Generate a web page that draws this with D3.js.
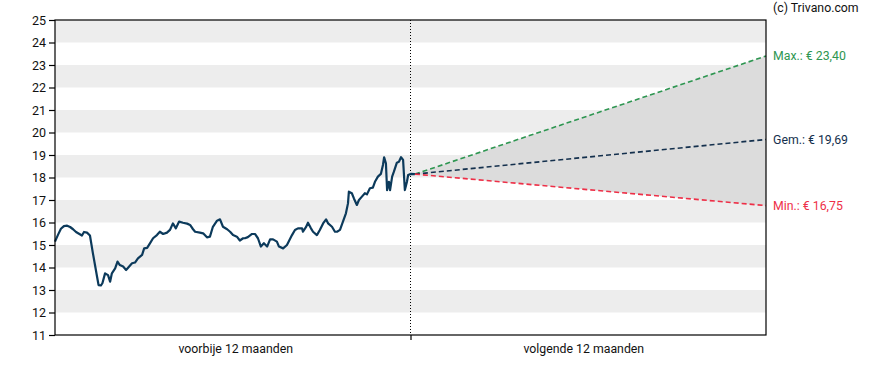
<!DOCTYPE html>
<html>
<head>
<meta charset="utf-8">
<script src="https://cdn.jsdelivr.net/npm/d3@7"></script>
<style>
  body { margin: 0; background: #fff; }
  svg { font-family: Roboto, "Noto Sans", sans-serif; }
</style>
</head>
<body>
<svg width="888" height="370"></svg>
<script>
// months relative to today (negative = past)
var histMonths = [-12.00,-11.90,-11.80,-11.70,-11.59,-11.49,-11.39,-11.29,-11.19,-11.09,-11.02,-10.92,-10.82,-10.72,-10.65,-10.58,-10.53,-10.45,-10.40,-10.31,-10.21,-10.14,-10.08,-9.97,-9.89,-9.81,-9.70,-9.60,-9.54,-9.40,-9.30,-9.20,-9.06,-8.99,-8.89,-8.79,-8.69,-8.56,-8.46,-8.35,-8.22,-8.12,-8.02,-7.92,-7.81,-7.68,-7.54,-7.44,-7.34,-7.27,-7.11,-7.00,-6.87,-6.77,-6.67,-6.53,-6.43,-6.33,-6.19,-6.09,-5.99,-5.86,-5.76,-5.65,-5.59,-5.49,-5.35,-5.25,-5.15,-5.05,-4.95,-4.84,-4.74,-4.64,-4.51,-4.44,-4.30,-4.17,-4.00,-3.90,-3.80,-3.66,-3.63,-3.53,-3.46,-3.36,-3.29,-3.16,-3.06,-2.95,-2.85,-2.78,-2.65,-2.55,-2.48,-2.38,-2.28,-2.18,-2.11,-2.08,-1.98,-1.91,-1.81,-1.74,-1.64,-1.54,-1.47,-1.37,-1.27,-1.20,-1.10,-1.00,-0.93,-0.89,-0.83,-0.79,-0.73,-0.69,-0.62,-0.56,-0.46,-0.39,-0.32,-0.25,-0.22,-0.19,-0.12,-0.08,0.02,0.15];
var histPrice = [15.15,15.45,15.72,15.84,15.86,15.80,15.70,15.58,15.50,15.42,15.58,15.55,15.42,14.63,14.11,13.59,13.22,13.20,13.30,13.74,13.66,13.37,13.74,13.96,14.26,14.11,14.04,13.89,13.98,14.19,14.22,14.41,14.56,14.85,14.87,15.08,15.30,15.44,15.59,15.49,15.55,15.67,15.96,15.74,16.04,15.99,15.95,15.89,15.70,15.59,15.55,15.52,15.34,15.37,15.81,16.08,16.14,15.81,15.70,15.59,15.44,15.37,15.20,15.30,15.30,15.35,15.49,15.49,15.30,14.93,15.08,14.93,15.25,15.25,15.15,14.93,14.85,15.00,15.44,15.67,15.74,15.74,15.59,15.79,15.99,15.74,15.59,15.44,15.67,15.96,16.14,15.96,15.81,15.59,15.59,15.67,16.04,16.41,16.85,17.37,17.30,17.07,16.78,17.00,17.15,17.30,17.25,17.52,17.55,17.81,18.04,18.16,18.56,18.90,18.63,17.44,17.81,17.44,18.04,18.26,18.66,18.70,18.90,18.78,18.11,17.44,17.81,18.11,18.16,18.15];

var forecastMonths = [0.15, 12];
var forecastMax = [18.15, 23.40];
var forecastAvg = [18.15, 19.69];
var forecastMin = [18.15, 16.75];

var yTicks = [11,12,13,14,15,16,17,18,19,20,21,22,23,24,25];
var periodLabels = ["voorbije 12 maanden", "volgende 12 maanden"];
var periodCenters = [-5.9, 5.85];
var endLabels = [
  {text: "Max.: € 23,40", value: 23.40, color: "#2e9651"},
  {text: "Gem.: € 19,69", value: 19.69, color: "#14304d"},
  {text: "Min.: € 16,75", value: 16.75, color: "#ee2f47"}
];

var svg = d3.select("svg");
var plotL = 55, plotR = 766, plotT = 20, plotB = 335;

var x = d3.scaleLinear().domain([-12, 12]).range([plotL, plotR]);
var y = d3.scaleLinear().domain([11, 25]).range([plotB, plotT]);

// alternating bands
svg.selectAll("rect.band")
  .data(yTicks.filter(function(d) { return d < 25 && d % 2 === 0; }))
  .enter().append("rect")
  .attr("class", "band")
  .attr("x", plotL)
  .attr("width", plotR - plotL)
  .attr("y", function(d) { return y(d + 1); })
  .attr("height", function(d) { return y(d) - y(d + 1); })
  .attr("fill", "#ededed");

// forecast cone
var fc = forecastMonths.map(function(m, i) {
  return {m: m, hi: forecastMax[i], lo: forecastMin[i], avg: forecastAvg[i]};
});
svg.append("path")
  .datum(fc)
  .attr("d", d3.area()
    .x(function(d) { return x(d.m); })
    .y0(function(d) { return y(d.lo); })
    .y1(function(d) { return y(d.hi); }))
  .attr("fill", "#dcdcdc");

// divider
svg.append("line")
  .attr("x1", x(0)).attr("x2", x(0))
  .attr("y1", plotT).attr("y2", plotB)
  .attr("stroke", "#000")
  .attr("stroke-width", 1)
  .attr("stroke-dasharray", "1,2");

// price line
var hist = histMonths.map(function(m, i) { return {m: m, v: histPrice[i]}; });
svg.append("path")
  .datum(hist)
  .attr("d", d3.line()
    .x(function(d) { return x(d.m); })
    .y(function(d) { return y(d.v); }))
  .attr("fill", "none")
  .attr("stroke", "#0c3a5b")
  .attr("stroke-width", 2.2)
  .attr("stroke-linejoin", "round");

// forecast lines
[["hi", "#2e9651"], ["avg", "#14304d"], ["lo", "#ee2f47"]].forEach(function(s) {
  svg.append("path")
    .datum(fc)
    .attr("d", d3.line()
      .x(function(d) { return x(d.m); })
      .y(function(d) { return y(d[s[0]]); }))
    .attr("fill", "none")
    .attr("stroke", s[1])
    .attr("stroke-width", 1.6)
    .attr("stroke-dasharray", "5,3");
});

// frame
svg.append("rect")
  .attr("x", plotL).attr("y", plotT)
  .attr("width", plotR - plotL).attr("height", plotB - plotT)
  .attr("fill", "none")
  .attr("stroke", "#000")
  .attr("stroke-width", 1.2);

// y axis
var yAxis = svg.append("g")
  .attr("transform", "translate(" + plotL + ",0)")
  .call(d3.axisLeft(y).tickValues(yTicks).tickSize(6).tickPadding(3).tickFormat(d3.format("d")));
yAxis.select(".domain").remove();
yAxis.selectAll("text").attr("font-size", 12.5).attr("fill", "#111").attr("font-family", "Roboto");
yAxis.selectAll("line").attr("stroke", "#000").attr("stroke-width", 1.2);

// x axis: single tick at today
var xAxis = svg.append("g")
  .attr("transform", "translate(0," + plotB + ")")
  .call(d3.axisBottom(x).tickValues([0]).tickSize(5).tickFormat(""));
xAxis.select(".domain").remove();
xAxis.selectAll("line").attr("stroke", "#000").attr("stroke-width", 1.2);

svg.selectAll("text.period")
  .data(periodLabels)
  .enter().append("text")
  .attr("class", "period")
  .attr("x", function(d, i) { return x(periodCenters[i]); })
  .attr("y", 353)
  .attr("text-anchor", "middle")
  .attr("font-size", 12.3)
  .attr("fill", "#111")
  .text(function(d) { return d; });

// end labels
svg.selectAll("text.end")
  .data(endLabels)
  .enter().append("text")
  .attr("class", "end")
  .attr("x", plotR + 7)
  .attr("y", function(d) { return y(d.value); })
  .attr("dy", "0.35em")
  .attr("font-size", 12.3)
  .attr("fill", function(d) { return d.color; })
  .text(function(d) { return d.text; });

svg.append("text")
  .attr("x", 773)
  .attr("y", 12)
  .attr("font-size", 12.3)
  .attr("fill", "#111")
  .text("(c) Trivano.com");
</script>
</body>
</html>
